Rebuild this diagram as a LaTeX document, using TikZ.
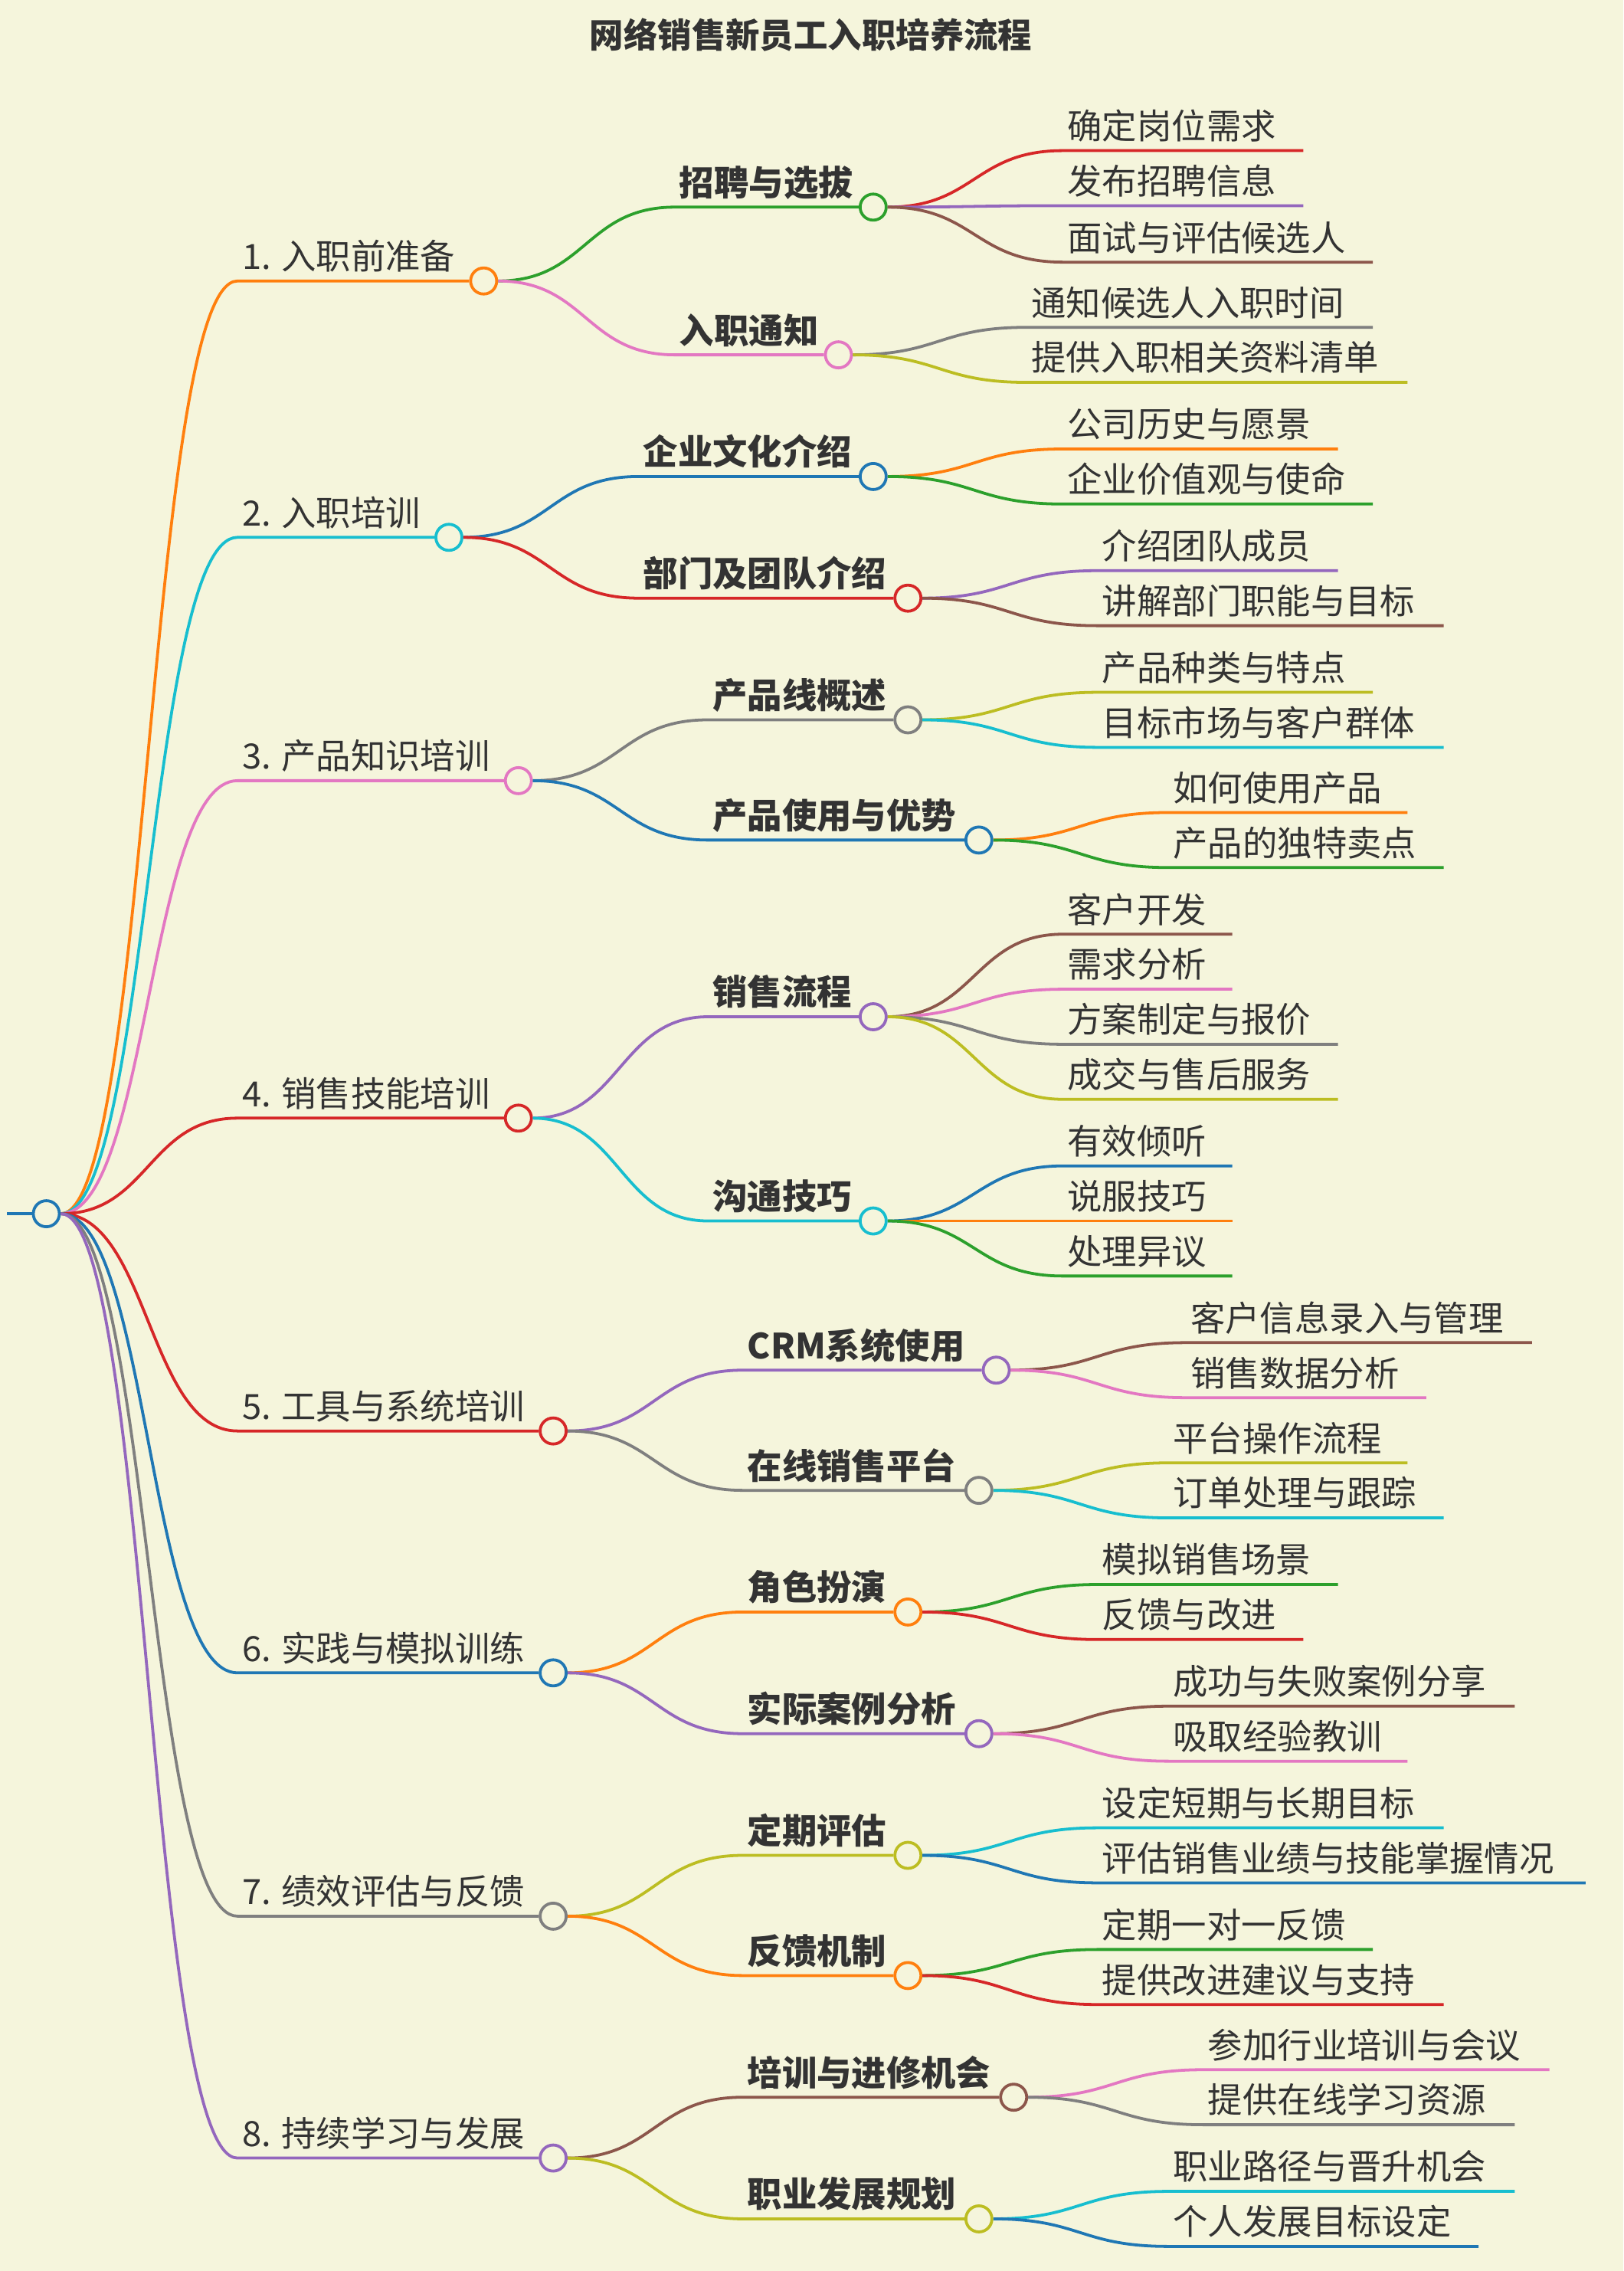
\documentclass[tikz,border=0pt]{standalone}
\usepackage{fontspec}
\setmainfont{Noto Sans CJK SC}
\definecolor{bg}{HTML}{F5F5DC}
\definecolor{cO}{HTML}{FF7F0E}\definecolor{cG}{HTML}{2CA02C}\definecolor{cR}{HTML}{D62728}
\definecolor{cP}{HTML}{9467BD}\definecolor{cB}{HTML}{8C564B}\definecolor{cK}{HTML}{E377C2}
\definecolor{cY}{HTML}{7F7F7F}\definecolor{cL}{HTML}{BCBD22}\definecolor{cC}{HTML}{17BECF}
\definecolor{cU}{HTML}{1F77B4}\definecolor{tx}{HTML}{333333}
\tikzset{lw/.style={line width=2pt},
 circ/.style={circle,minimum size=18pt,inner sep=0pt,fill=bg,line width=2pt},
 txt/.style={text=tx,inner sep=0pt,font=\fontsize{24}{26}\selectfont}}
% parent px py name sx y ex color text
\newcommand\br[9]{%
 \pgfmathsetmacro\mx{(#2+9+#5)/2}%
 \node[circ,draw=#8] (#4) at (#7,#6) {};
 \draw[#8,lw] (#1.east) .. controls (\mx,#3) and (\mx,#6) .. (#5,#6) -- (#4.west);
 \node[txt,anchor=base west] (#4t) at ({#5+3},{#6-8}) {#9};}
\newcommand\lf[9]{%
 \pgfmathsetmacro\mx{(#2+9+#5)/2}%
 \coordinate (#4) at (#7,#6);
 \draw[#8,lw] (#1.east) .. controls (\mx,#3) and (\mx,#6) .. (#5,#6) -- (#4);
 \node[txt,anchor=base west] (#4t) at ({#5+3},{#6-8}) {#9};}
\begin{document}
\begin{tikzpicture}[x=1pt,y=-1pt]
\fill[bg] (0,0) rectangle (1121,1568);
\useasboundingbox (0,0) rectangle (1121,1568);
\node[txt,font=\fontsize{23.5}{25}\selectfont\bfseries] (title) at (560,24) {网络销售新员工入职培养流程};
\coordinate (r0) at (5,838);
\node[circ,draw=cU] (r) at (32,838) {};
\draw[cU,lw] (r0) -- (r.west);
% level 1
\br{r}{32}{838}{a}{164}{194}{334}{cO}{1. 入职前准备}
\br{r}{32}{838}{b}{164}{371}{310}{cC}{2. 入职培训}
\br{r}{32}{838}{c}{164}{539}{358}{cK}{3. 产品知识培训}
\br{r}{32}{838}{d}{164}{772}{358}{cR}{4. 销售技能培训}
\br{r}{32}{838}{e}{164}{988}{382}{cR}{5. 工具与系统培训}
\br{r}{32}{838}{f}{164}{1155}{382}{cU}{6. 实践与模拟训练}
\br{r}{32}{838}{g}{164}{1323}{382}{cY}{7. 绩效评估与反馈}
\br{r}{32}{838}{h}{164}{1490}{382}{cP}{8. 持续学习与发展}
% level 2
\br{a}{334}{194}{a1}{466}{143}{603}{cG}{\bfseries 招聘与选拔}
\br{a}{334}{194}{a2}{466}{245}{579}{cK}{\bfseries 入职通知}
\br{b}{310}{371}{b1}{441}{329}{603}{cU}{\bfseries 企业文化介绍}
\br{b}{310}{371}{b2}{441}{413}{627}{cR}{\bfseries 部门及团队介绍}
\br{c}{358}{539}{c1}{489}{497}{627}{cY}{\bfseries 产品线概述}
\br{c}{358}{539}{c2}{489}{580}{676}{cU}{\bfseries 产品使用与优势}
\br{d}{358}{772}{d1}{489}{702}{603}{cP}{\bfseries 销售流程}
\br{d}{358}{772}{d2}{489}{843}{603}{cC}{\bfseries 沟通技巧}
\br{e}{382}{988}{e1}{513}{946}{688}{cP}{\bfseries CRM系统使用}
\br{e}{382}{988}{e2}{513}{1029}{676}{cY}{\bfseries 在线销售平台}
\br{f}{382}{1155}{f1}{513}{1113}{627}{cO}{\bfseries 角色扮演}
\br{f}{382}{1155}{f2}{513}{1197}{676}{cP}{\bfseries 实际案例分析}
\br{g}{382}{1323}{g1}{513}{1281}{627}{cL}{\bfseries 定期评估}
\br{g}{382}{1323}{g2}{513}{1364}{627}{cO}{\bfseries 反馈机制}
\br{h}{382}{1490}{h1}{513}{1448}{700}{cB}{\bfseries 培训与进修机会}
\br{h}{382}{1490}{h2}{513}{1532}{676}{cL}{\bfseries 职业发展规划}
% level 3
\lf{a1}{603}{143}{a11}{734}{104}{900}{cR}{确定岗位需求}
\lf{a1}{603}{143}{a12}{734}{142}{900}{cP}{发布招聘信息}
\lf{a1}{603}{143}{a13}{734}{181}{948}{cB}{面试与评估候选人}
\lf{a2}{579}{245}{a21}{709}{226}{948}{cY}{通知候选人入职时间}
\lf{a2}{579}{245}{a22}{709}{264}{972}{cL}{提供入职相关资料清单}
\lf{b1}{603}{329}{b11}{734}{310}{924}{cO}{公司历史与愿景}
\lf{b1}{603}{329}{b12}{734}{348}{948}{cG}{企业价值观与使命}
\lf{b2}{627}{413}{b21}{758}{394}{924}{cP}{介绍团队成员}
\lf{b2}{627}{413}{b22}{758}{432}{997}{cB}{讲解部门职能与目标}
\lf{c1}{627}{497}{c11}{758}{478}{948}{cL}{产品种类与特点}
\lf{c1}{627}{497}{c12}{758}{516}{997}{cC}{目标市场与客户群体}
\lf{c2}{676}{580}{c21}{807}{561}{972}{cO}{如何使用产品}
\lf{c2}{676}{580}{c22}{807}{599}{997}{cG}{产品的独特卖点}
\lf{d1}{603}{702}{d11}{734}{645}{851}{cB}{客户开发}
\lf{d1}{603}{702}{d12}{734}{683}{851}{cK}{需求分析}
\lf{d1}{603}{702}{d13}{734}{721}{924}{cY}{方案制定与报价}
\lf{d1}{603}{702}{d14}{734}{759}{924}{cL}{成交与售后服务}
\lf{d2}{603}{843}{d21}{734}{805}{851}{cU}{有效倾听}
\lf{d2}{603}{843}{d22}{734}{843}{851}{cO}{说服技巧}
\lf{d2}{603}{843}{d23}{734}{881}{851}{cG}{处理异议}
\lf{e1}{688}{946}{e11}{819}{927}{1058}{cB}{客户信息录入与管理}
\lf{e1}{688}{946}{e12}{819}{965}{985}{cK}{销售数据分析}
\lf{e2}{676}{1029}{e21}{807}{1010}{972}{cL}{平台操作流程}
\lf{e2}{676}{1029}{e22}{807}{1048}{997}{cC}{订单处理与跟踪}
\lf{f1}{627}{1113}{f11}{758}{1094}{924}{cG}{模拟销售场景}
\lf{f1}{627}{1113}{f12}{758}{1132}{900}{cR}{反馈与改进}
\lf{f2}{676}{1197}{f21}{807}{1178}{1046}{cB}{成功与失败案例分享}
\lf{f2}{676}{1197}{f22}{807}{1216}{972}{cK}{吸取经验教训}
\lf{g1}{627}{1281}{g11}{758}{1262}{997}{cC}{设定短期与长期目标}
\lf{g1}{627}{1281}{g12}{758}{1300}{1095}{cU}{评估销售业绩与技能掌握情况}
\lf{g2}{627}{1364}{g21}{758}{1346}{948}{cG}{定期一对一反馈}
\lf{g2}{627}{1364}{g22}{758}{1384}{997}{cR}{提供改进建议与支持}
\lf{h1}{700}{1448}{h11}{831}{1429}{1070}{cK}{参加行业培训与会议}
\lf{h1}{700}{1448}{h12}{831}{1467}{1046}{cY}{提供在线学习资源}
\lf{h2}{676}{1532}{h21}{807}{1513}{1046}{cC}{职业路径与晋升机会}
\lf{h2}{676}{1532}{h22}{807}{1551}{1021}{cU}{个人发展目标设定}
\end{tikzpicture}
\end{document}
